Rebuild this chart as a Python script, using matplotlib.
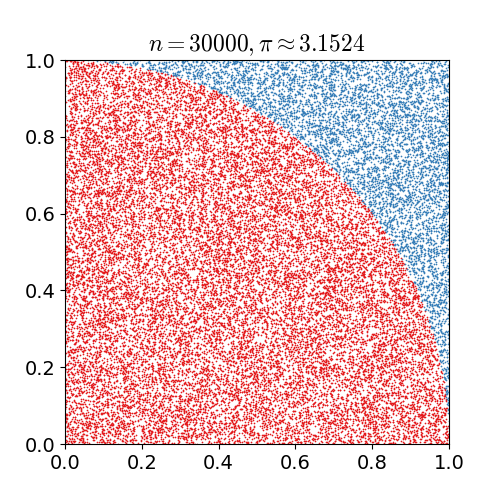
import numpy as np
import matplotlib
matplotlib.use("Agg")
import matplotlib.pyplot as plt

n_points = 30000
pi_estimate = 3.1524
inside_color = "#e41a1c"
outside_color = "#377eb8"

# Sample points (the reference is a Monte Carlo scatter; individual points cannot be read)
rng = np.random.default_rng(0)
pts = rng.random((n_points, 2))
x, y = pts[:, 0], pts[:, 1]
inside = x**2 + y**2 <= 1

plt.rcParams["mathtext.fontset"] = "cm"
fig = plt.figure(figsize=(5, 5), dpi=100)
ax = fig.add_axes([0.13, 0.112, 0.768, 0.768])
ax.scatter(x[inside], y[inside], s=1.5, c=inside_color, linewidths=0)
ax.scatter(x[~inside], y[~inside], s=1.5, c=outside_color, linewidths=0)
ax.set_xlim(0, 1)
ax.set_ylim(0, 1)
ax.set_xticks(np.arange(0, 1.01, 0.2))
ax.set_yticks(np.arange(0, 1.01, 0.2))
ax.tick_params(labelsize=14)
ax.set_title(r"$n = %d, \pi \approx %.4f$" % (n_points, pi_estimate), fontsize=17)
fig.savefig("out.png", dpi=100)
